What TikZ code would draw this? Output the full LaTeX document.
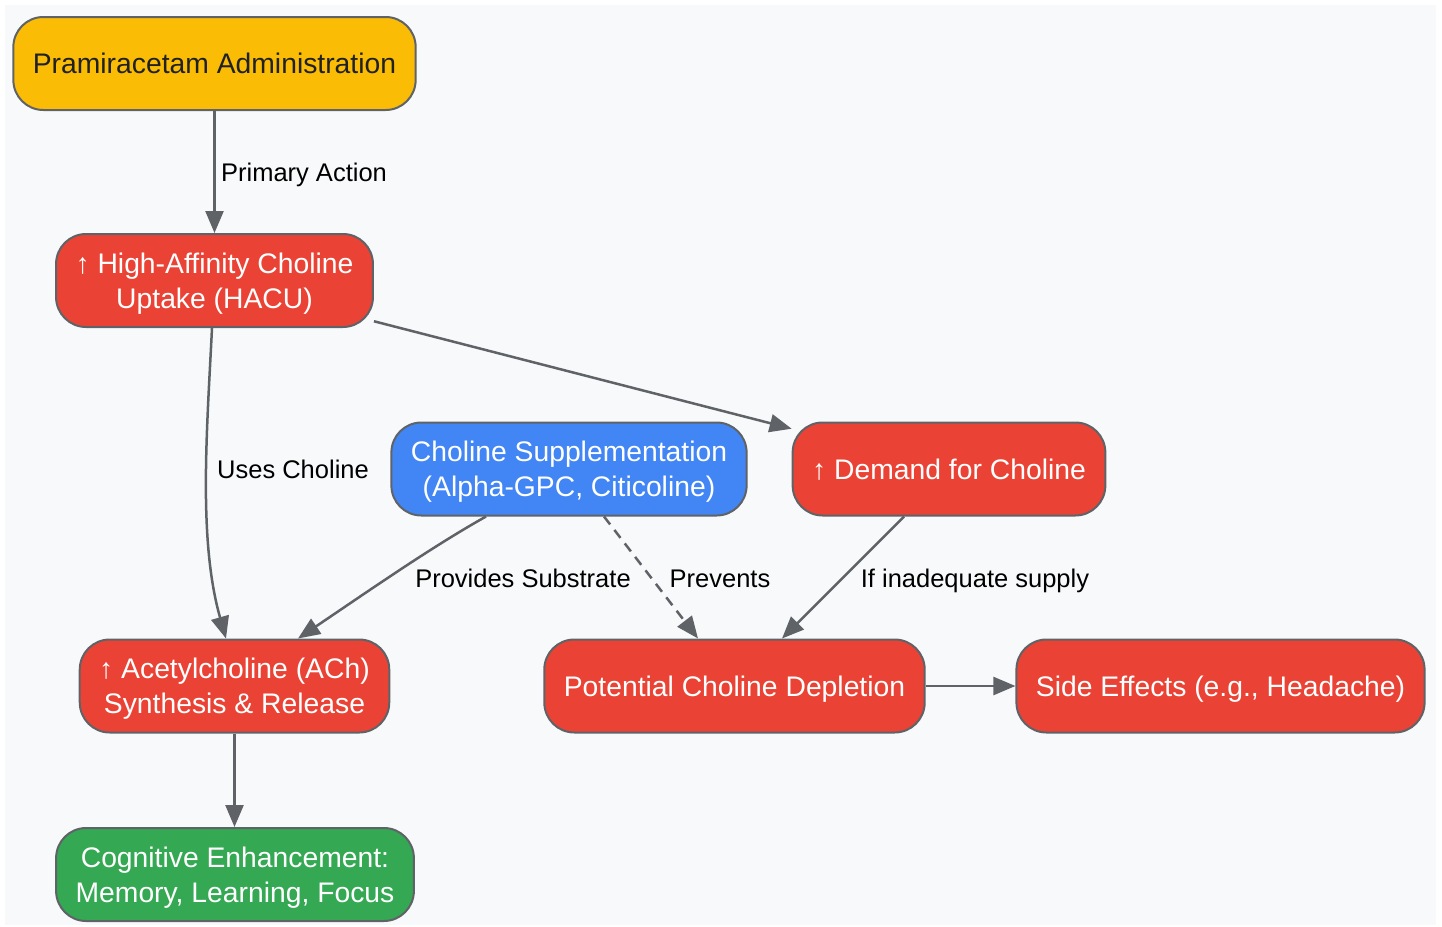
\documentclass[tikz,border=0pt]{standalone}
\usepackage{fontspec}
\setmainfont{Liberation Sans}
\usetikzlibrary{arrows.meta}
\definecolor{bg}{HTML}{F8F9FA}
\definecolor{edgegray}{HTML}{5F6368}
\definecolor{gyellow}{HTML}{FBBC05}
\definecolor{gred}{HTML}{EA4335}
\definecolor{gblue}{HTML}{4285F4}
\definecolor{ggreen}{HTML}{34A853}
\definecolor{darktext}{HTML}{202124}
\newcommand{\boxstrut}{\rule[-6pt]{0pt}{32.7pt}}

\begin{document}
\begin{tikzpicture}[x=1pt, y=-1pt,
  box/.style={draw=edgegray, line width=2pt, rounded corners=30pt, minimum height=93pt,
    inner xsep=19.5pt, align=center, text=white, font=\fontsize{28.3}{35}\selectfont},
  edge/.style={draw=edgegray, line width=2.5pt, -{Triangle[length=22pt,width=18pt]}},
  lbl/.style={font=\fontsize{25.5}{30}\selectfont, text=black}]
  \useasboundingbox (0,0) rectangle (1442,926);
  \fill[bg] (5,5) rectangle (1436,925);

  \node[box, fill=gyellow, text=darktext] (pram) at (214.5,63.5) {\boxstrut Pramiracetam Administration};
  \node[box, fill=gred] (hacu) at (214.5,280.5) {\boxstrut↑ High-Affinity Choline\\Uptake (HACU)};
  \node[box, fill=gblue] (supp) at (569,469) {\boxstrut Choline Supplementation\\(Alpha-GPC, Citicoline)};
  \node[box, fill=gred] (demand) at (949,469) {\boxstrut↑ Demand for Choline};
  \node[box, fill=gred] (ach) at (234.5,686) {\boxstrut↑ Acetylcholine (ACh)\\Synthesis \& Release};
  \node[box, fill=gred] (deplete) at (734.5,686) {\boxstrut Potential Choline Depletion};
  \node[box, fill=gred] (side) at (1220.5,686) {\boxstrut Side Effects (e.g., Headache)};
  \node[box, fill=ggreen] (cog) at (235,874.5) {\boxstrut Cognitive Enhancement:\\Memory, Learning, Focus};

  \draw[edge] (pram) -- (hacu);
  \draw[edge] (hacu) -- (demand);
  \draw[edge] ([xshift=-2.5pt]hacu.south) .. controls (207,430) and (198,540) .. ([xshift=-8.5pt]ach.north);
  \draw[edge] ([xshift=-83pt]supp.south) .. controls (430,548) and (370,590) .. ([xshift=63.5pt]ach.north);
  \draw[edge, dash pattern=on 10pt off 7pt] ([xshift=35pt]supp.south) -- ([xshift=-36.5pt]deplete.north);
  \draw[edge] ([xshift=-45pt]demand.south) -- ([xshift=47.5pt]deplete.north);
  \draw[edge] (deplete) -- (side);
  \draw[edge] (ach.south) -- (ach.south |- cog.north);

  \node[lbl] (l1) at (304,175) {Primary Action};
  \node[lbl] (l2) at (293,469) {Uses Choline};
  \node[lbl] (l3) at (523,578) {Provides Substrate};
  \node[lbl] (l4) at (720,579) {Prevents};
  \node[lbl] (l5) at (975,581) {If inadequate supply};
\end{tikzpicture}
\end{document}
